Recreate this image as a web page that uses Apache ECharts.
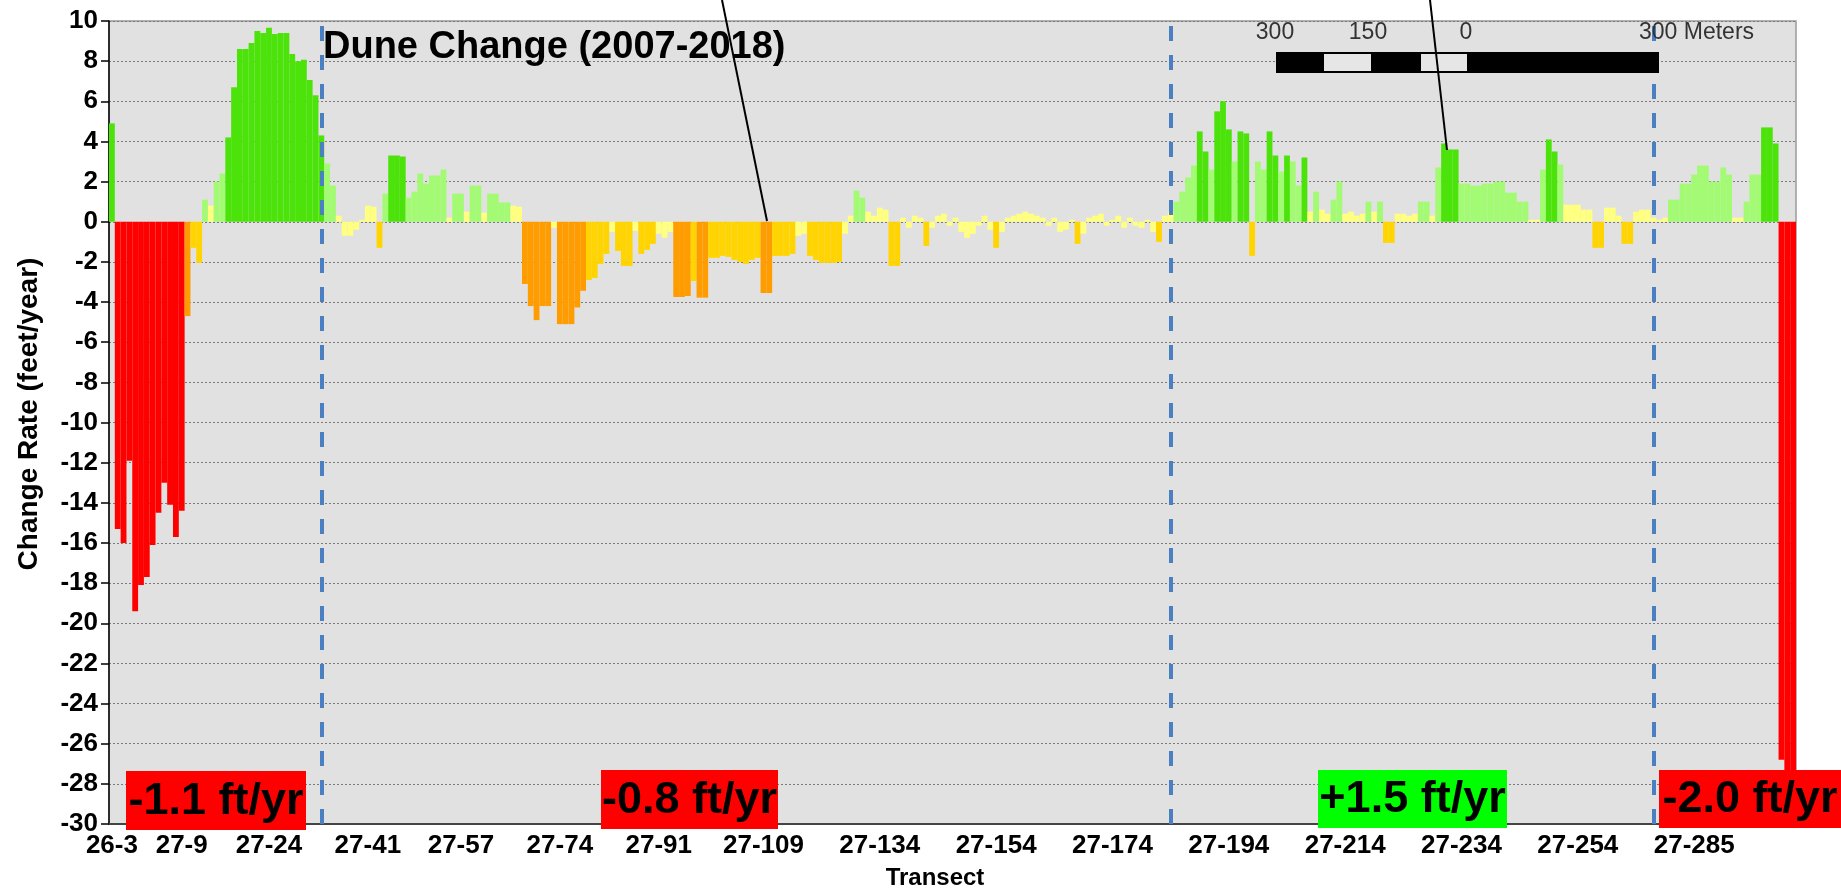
<!DOCTYPE html>
<html>
<head>
<meta charset="utf-8">
<script src="https://cdn.jsdelivr.net/npm/echarts@6/dist/echarts.min.js"></script>
<style>
html,body{margin:0;padding:0;background:#fff;}
#chart{width:1841px;height:891px;}
</style>
</head>
<body>
<div id="chart"></div>
<script>
// ---- DATA ----
// transect id ranges (prefix, first, last) in along-shore order
const transectRanges = [['26',3,6],['27',1,109],['27',115,133],['27',134,254],['27',266,285],['27',286,302]];
const tickLabels = ['26-3','27-9','27-24','27-41','27-57','27-74','27-91','27-109','27-134','27-154','27-174','27-194','27-214','27-234','27-254','27-285'];
const dividerTransects = ['27-33','27-184','27-278'];

// change rate (feet/year), one value per transect
const rates0 = [4.9,-15.3,-16.0,-11.9,-19.4,-18.1,-17.7,-16.1,-14.5,-13.0,-14.1,-15.7,-14.4,-4.7,-1.3,-2.05,1.1,0.8,2.0,2.4,
 4.2,6.7,8.6,8.6,8.9,9.5,9.4,9.66,9.35,9.4,9.4,8.36,8.0,8.07,7.06,6.3,4.3,2.9,1.8,0.3,
 -0.7,-0.7,-0.4,0.1,0.8,0.75,-1.3,1.4,3.3,3.3,3.25,1.2,1.5,2.4,1.9,2.3,2.3,2.6,0.2,1.4];
const rates1 = [1.4,0.5,1.8,1.8,0.45,1.4,1.4,0.96,0.96,0.8,0.75,-3.1,-4.2,-4.9,-4.2,-4.2,-0.3,-5.1,-5.1,-5.1,
 -4.27,-3.44,-2.9,-2.8,-2.1,-1.6,-0.5,-1.45,-2.2,-2.2,-0.45,-1.6,-1.4,-1.1,-0.6,-0.8,-0.5,-3.75,-3.75,-3.7,
 -2.95,-3.78,-3.78,-1.8,-1.8,-1.7,-1.75,-1.9,-2.0,-2.1,-1.9,-1.8,-3.55,-3.55,-1.7,-1.7,-1.7,-1.6,-0.7,-0.6];
const rates2 = [-1.7,-1.9,-2.05,-2.05,-2.05,-2.0,-0.6,0.3,1.55,1.2,0.5,0.3,0.7,0.6,-2.2,-2.2,0.2,-0.3,0.3,0.2,
 -1.2,-0.3,0.3,0.4,-0.2,0.2,-0.5,-0.8,-0.6,-0.2,0.3,-0.4,-1.3,-0.5,0.2,0.3,0.4,0.5,0.4,0.3,
 0.2,-0.2,0.2,-0.5,-0.4,0.1,-1.1,-0.6,0.2,0.3,0.4,-0.2,0.1,0.3,-0.3,0.2,-0.2,-0.3,0.1,-0.5];
const rates3 = [-1.0,0.3,0.5,1.0,1.5,2.2,2.8,4.5,3.5,2.6,5.5,6.0,4.6,3.0,4.5,4.4,-1.7,3.0,2.6,4.5,
 3.3,2.5,3.3,3.0,1.8,3.2,0.5,1.5,0.6,0.4,1.1,2.0,0.4,0.5,0.3,0.4,1.0,0.5,1.0,-1.05,
 -1.05,0.4,0.4,0.3,0.4,1.0,1.0,0.3,2.7,3.9,3.6,3.6,1.9,1.9,1.8,1.8,1.9,1.9,2.0,2.0];
const rates4 = [1.45,1.45,1.0,1.0,0.1,0.1,2.6,4.1,3.5,2.85,0.85,0.85,0.85,0.6,0.6,-1.3,-1.3,0.7,0.7,0.3,
 -1.1,-1.1,0.5,0.6,0.6,0.2,0.1,0.2,1.1,1.1,1.9,1.9,2.35,2.8,2.8,2.0,2.0,2.7,2.35,0.2,
 0.2,1.0,2.35,2.35,4.7,4.7,3.9,-26.8,-29.9,-29.9];

// ---- BUILD ----
const categories = [];
transectRanges.forEach(([p, a, b]) => { for (let k = a; k <= b; k++) categories.push(p + '-' + k); });
const rates = rates0.concat(rates1, rates2, rates3, rates4);
const tickSet = new Set(tickLabels);

const C_RED = '#ff0000', C_ORANGE = '#ff9c00', C_GOLD = '#ffd400',
      C_PALE = '#ffff80', C_LIGHT = '#a2fb72', C_GREEN = '#4be30a';
function rateColor(v) {
  if (v <= -10) return C_RED;
  if (v <= -3) return C_ORANGE;
  if (v <= -0.95) return C_GOLD;
  if (v < 0.9) return C_PALE;
  if (v < 3.1) return C_LIGHT;
  return C_GREEN;
}

const FONT = 'Liberation Sans, Arial, sans-serif';
const chart = echarts.init(document.getElementById('chart'), null, {renderer: 'canvas'});

function labelBox(x, y, w, h, fill, txt) {
  return [
    {type: 'rect', shape: {x: x, y: y, width: w, height: h}, style: {fill: fill}, z: 100},
    {type: 'text', x: x + w / 2, y: y + h / 2 + 1, z: 101,
     style: {text: txt, fill: '#000', font: 'bold 45px ' + FONT, align: 'center', verticalAlign: 'middle'}}
  ];
}

const option = {
  animation: false,
  backgroundColor: '#ffffff',
  grid: {left: 109, right: 45, top: 21, bottom: 67, show: true, backgroundColor: '#e1e1e1', borderColor: '#9a9a9a', borderWidth: 1.5},
  xAxis: {
    type: 'category',
    data: categories,
    boundaryGap: true,
    axisLine: {onZero: false, lineStyle: {color: '#444', width: 2}},
    axisTick: {alignWithLabel: true, length: 6, lineStyle: {color: '#444', width: 1.5},
               interval: (i, v) => tickSet.has(v)},
    axisLabel: {interval: (i, v) => tickSet.has(v), color: '#000', fontWeight: 'bold', fontSize: 26,
                fontFamily: FONT, margin: 9},
    splitLine: {show: false}
  },
  yAxis: {
    type: 'value', min: -30, max: 10, interval: 2,
    axisLine: {show: true, lineStyle: {color: '#000', width: 1.5}},
    axisTick: {show: true, length: 8, lineStyle: {color: '#000', width: 1.5}},
    axisLabel: {color: '#000', fontWeight: 'bold', fontSize: 26, fontFamily: FONT, margin: 11},
    splitLine: {show: true, lineStyle: {color: '#7a7a7a', width: 1, type: [2, 2]}}
  },
  series: [{
    type: 'bar',
    data: rates,
    barCategoryGap: '0%',
    barGap: '0%',
    itemStyle: {color: p => rateColor(p.value)},
    markLine: {
      silent: true, symbol: 'none', label: {show: false},
      lineStyle: {color: '#4a7fc1', width: 4, type: [15, 14]},
      data: dividerTransects.map(t => ({xAxis: t}))
    }
  }],
  graphic: [
    {type: 'text', x: 323, y: 48, z: 90,
     style: {text: 'Dune Change (2007-2018)', fill: '#000', font: 'bold 38px ' + FONT, verticalAlign: 'middle'}},
    // scale bar
    {type: 'rect', shape: {x: 1276, y: 52, width: 383, height: 21}, style: {fill: '#000'}, z: 90},
    {type: 'rect', shape: {x: 1324, y: 54, width: 47, height: 17}, style: {fill: '#e6e6e6'}, z: 91},
    {type: 'rect', shape: {x: 1421, y: 54, width: 46, height: 17}, style: {fill: '#e6e6e6'}, z: 91},
    {type: 'text', x: 1275, y: 33, z: 90, style: {text: '300', fill: '#333', font: '23px ' + FONT, align: 'center', verticalAlign: 'middle'}},
    {type: 'text', x: 1368, y: 33, z: 90, style: {text: '150', fill: '#333', font: '23px ' + FONT, align: 'center', verticalAlign: 'middle'}},
    {type: 'text', x: 1466, y: 33, z: 90, style: {text: '0', fill: '#333', font: '23px ' + FONT, align: 'center', verticalAlign: 'middle'}},
    {type: 'text', x: 1639, y: 33, z: 90, style: {text: '300 Meters', fill: '#333', font: '23px ' + FONT, align: 'left', verticalAlign: 'middle'}},
    // leader lines
    {type: 'line', shape: {x1: 722, y1: 0, x2: 767, y2: 221}, style: {stroke: '#000', lineWidth: 2}, z: 95},
    {type: 'line', shape: {x1: 1430, y1: 0, x2: 1447, y2: 150}, style: {stroke: '#000', lineWidth: 2}, z: 95},
    // axis names
    {type: 'text', x: 29, y: 414, rotation: Math.PI / 2, z: 90,
     style: {text: 'Change Rate (feet/year)', fill: '#000', font: 'bold 28px ' + FONT, align: 'center', verticalAlign: 'middle'}},
    {type: 'text', x: 935, y: 878, z: 90,
     style: {text: 'Transect', fill: '#000', font: 'bold 24px ' + FONT, align: 'center', verticalAlign: 'middle'}}
  ]
    .concat(labelBox(126, 771, 180, 59, '#ff0000', '-1.1 ft/yr'))
    .concat(labelBox(601, 770, 177, 59, '#ff0000', '-0.8 ft/yr'))
    .concat(labelBox(1318, 770, 189, 58, '#00ff00', '+1.5 ft/yr'))
    .concat(labelBox(1659, 770, 182, 58, '#ff0000', '-2.0 ft/yr'))
};
chart.setOption(option);
</script>
</body>
</html>
